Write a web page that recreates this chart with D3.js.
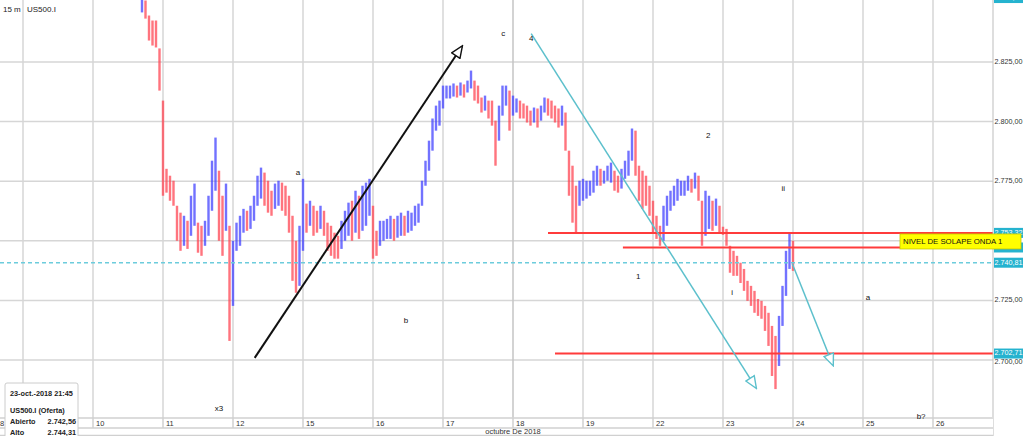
<!DOCTYPE html>
<html><head><meta charset="utf-8">
<script src="https://cdn.jsdelivr.net/npm/d3@7/dist/d3.min.js"></script>
<style>
html,body{margin:0;padding:0;background:#fff;}
svg{display:block;font-family:"Liberation Sans",Arial,sans-serif;}
</style></head>
<body><svg id="c" width="1024" height="436"></svg>
<script>
// ---- data ----
const symbol = "US500.I";
const timeframe = "15 m";
const monthLabel = "octubre De 2018";
// trading-day ticks (index 0 = 10 oct); label of day 9 is hidden under the info box
const dayLabels = ["8","","10","11","12","15","16","17","18","19","22","23","24","25","26"];
const dayIndex  = [-2,-1,0,1,2,3,4,5,6,7,8,9,10,11,12];
// bars: first bar at day index 0.7, 20 bars per trading day
const firstBar = 0.7;
const barsPerDay = 20;
const highs = [
2855.0,2850.8,2844.5,2842.4,2842.4,2830.7,2808.8,2780.2,2777.3,2775.2,
2764.7,2761.8,2760.5,2758.4,2768.9,2774.0,2757.6,2756.3,2758.4,2768.9,
2783.6,2793.3,2779.4,2768.9,2774.0,2756.3,2750.0,2757.6,2760.5,2763.4,
2762.6,2764.7,2768.9,2777.3,2780.7,2778.6,2775.2,2771.0,2774.0,2775.2,
2774.4,2773.1,2768.9,2760.5,2750.0,2756.3,2776.0,2765.6,2766.8,2764.7,
2762.6,2764.7,2762.6,2757.6,2756.3,2753.4,2752.1,2758.4,2762.6,2766.0,
2766.8,2771.0,2768.9,2773.1,2774.4,2776.0,2764.7,2754.2,2758.4,2758.4,
2759.2,2760.5,2759.2,2760.5,2761.8,2760.5,2762.6,2761.8,2764.7,2765.6,
2775.2,2783.6,2792.0,2801.3,2806.7,2808.8,2815.1,2815.1,2815.1,2816.0,
2815.1,2816.4,2815.6,2817.2,2821.4,2817.2,2815.1,2810.1,2810.9,2808.8,
2808.8,2800.4,2806.7,2815.1,2815.1,2813.0,2810.9,2809.7,2808.8,2807.6,
2806.7,2804.6,2805.9,2805.5,2806.7,2810.1,2809.7,2808.8,2806.7,2805.5,
2806.7,2803.8,2787.8,2781.5,2773.1,2775.2,2776.0,2775.2,2775.2,2779.4,
2781.5,2780.2,2779.4,2781.5,2782.8,2779.4,2777.3,2780.2,2783.6,2787.8,
2797.1,2796.2,2781.5,2779.4,2777.3,2773.1,2766.8,2760.5,2756.3,2764.7,
2768.9,2771.0,2773.1,2776.0,2775.2,2775.2,2777.3,2776.0,2778.6,2777.3,
2766.8,2771.0,2768.9,2766.8,2767.7,2764.7,2755.9,2755.0,2747.9,2745.8,
2743.7,2740.8,2738.2,2733.2,2731.1,2729.0,2725.6,2724.8,2722.7,2719.8,
2714.3,2710.1,2718.5,2731.1,2745.8,2753.0,2750.0];
const lows = [
2845.8,2843.2,2834.0,2831.9,2831.1,2813.0,2768.9,2770.2,2766.8,2764.7,
2750.0,2745.8,2747.9,2746.6,2752.1,2756.3,2745.0,2743.7,2747.9,2752.1,
2762.6,2771.0,2750.0,2743.7,2754.2,2708.0,2722.7,2745.8,2747.9,2753.4,
2754.2,2755.0,2758.4,2764.7,2767.7,2764.7,2761.8,2760.5,2763.4,2764.7,
2762.6,2760.5,2753.4,2733.2,2728.2,2731.1,2745.8,2753.4,2756.3,2752.1,
2753.4,2755.0,2752.1,2745.8,2743.7,2742.5,2742.5,2746.6,2750.0,2752.1,
2750.0,2753.4,2750.8,2754.2,2756.3,2760.5,2742.5,2743.7,2747.9,2750.0,
2750.8,2750.8,2750.0,2751.3,2752.1,2752.1,2753.4,2754.2,2756.3,2757.6,
2764.7,2773.1,2779.4,2787.8,2796.2,2798.3,2805.5,2809.7,2809.7,2810.5,
2810.1,2810.9,2810.1,2812.2,2813.9,2808.8,2807.6,2803.8,2804.6,2801.3,
2798.3,2781.5,2792.0,2802.5,2806.7,2796.2,2802.5,2803.8,2801.3,2801.3,
2799.6,2798.3,2799.6,2797.5,2800.4,2803.8,2802.5,2801.3,2799.6,2797.5,
2798.3,2787.8,2768.9,2757.6,2753.4,2764.7,2766.8,2767.7,2768.9,2770.2,
2773.1,2773.1,2774.0,2775.2,2774.4,2771.0,2770.2,2771.9,2776.0,2777.3,
2783.6,2777.3,2766.8,2763.4,2764.7,2760.5,2753.4,2750.8,2747.9,2750.0,
2756.3,2762.6,2764.7,2766.8,2768.9,2768.9,2771.0,2770.2,2771.9,2766.8,
2747.9,2752.1,2755.0,2754.2,2756.3,2753.4,2752.5,2747.9,2736.6,2735.3,
2735.3,2732.3,2729.0,2724.8,2722.7,2719.8,2718.5,2717.3,2712.2,2705.9,
2693.3,2687.8,2697.5,2714.3,2726.9,2738.2,2737.4];
const gridTicks = [2700,2725,2750,2775,2800,2825];
const priceTicks = [2700,2725,2775,2800,2825];
const tagValues = [2851.83,2753.32,2747.20,2740.81,2702.71];
const tagShown  = [true,true,false,true,true];
const lastPrice = 2740.81;
// support/resistance lines: value and start day index
const levelValues = [2753.32,2747.20,2702.71];
const levelStarts = [6.5,7.57,6.6];
const levelLabel = "NIVEL DE SOLAPE ONDA 1";
// wave labels: text, day index, price
const waveText  = ["c","4","a","2","ii","1","i","b","a","x3","b?"];
const waveDay   = [5.86,6.26,2.93,8.79,9.86,7.79,9.13,4.47,11.07,1.80,11.83];
const wavePrice = [2837.0,2834.8,2778.6,2794.1,2771.8,2734.9,2728.2,2716.4,2726.1,2679.4,2676.1];
// arrows: [day0, price0, day1, price1]
const arrowBlack = [2.31,2700.9,5.27,2831.5];
const arrowTeal1 = [6.26,2836.9,9.47,2688.4];
const arrowTeal2 = [9.99,2740.4,10.57,2697.9];
const infoDate = "23-oct.-2018 21:45";
const infoTitle = "US500.I (Oferta)";
const infoRows = [["Abierto","2.742,56"],["Alto","2.744,31"]];

// ---- chart ----
const W = 1024, H = 436, plotR = 993, plotB = 417;
const svg = d3.select("#c");
const x = d3.scaleLinear().domain([0,1]).range([93,163]);
const y = d3.scaleLinear().domain([2700,2825]).range([360,62]);
const loc = d3.formatLocale({decimal:",",thousands:".",grouping:[3],currency:["",""]});
const fmt = loc.format(",.2f");

const defs = svg.append("defs");
defs.append("clipPath").attr("id","plot")
  .append("rect").attr("x",0).attr("y",0).attr("width",plotR).attr("height",plotB);

// grid
const grid = svg.append("g");
grid.selectAll("line.h").data(gridTicks).enter().append("line")
  .attr("x1",0).attr("x2",plotR).attr("y1",d=>y(d)).attr("y2",d=>y(d))
  .attr("stroke","#d6d6d6").attr("stroke-width",1.5);
grid.selectAll("line.v").data(dayIndex.filter(d=>x(d)>0)).enter().append("line")
  .attr("x1",d=>x(d)).attr("x2",d=>x(d)).attr("y1",0).attr("y2",plotB)
  .attr("stroke",d=>d===6?"#c4c4c4":"#d6d6d6").attr("stroke-width",1.5);

const plot = svg.append("g").attr("clip-path","url(#plot)");

// price bars
const bars = highs.map((h,i)=>({t:firstBar+i/barsPerDay,h:h,l:lows[i]}));
bars.forEach((b,i)=>{
  const m=(b.h+b.l)/2, pm=i>0?(bars[i-1].h+bars[i-1].l)/2:m;
  b.up = m>=pm;
});
plot.selectAll("rect.bar").data(bars).enter().append("rect")
  .attr("x",d=>x(d.t)-1.2).attr("width",2.4)
  .attr("y",d=>y(d.h)).attr("height",d=>Math.max(1,y(d.l)-y(d.h)))
  .attr("fill",d=>d.up?"#3b3bff":"#ff3f4c").attr("opacity",0.72);

// last price dashed line
plot.append("line").attr("x1",0).attr("x2",plotR).attr("y1",y(lastPrice)).attr("y2",y(lastPrice))
  .attr("stroke","#6cccdc").attr("stroke-width",1.6).attr("stroke-dasharray","4,3");

// level lines
plot.selectAll("line.lvl").data(levelValues).enter().append("line")
  .attr("x1",(d,i)=>x(levelStarts[i])).attr("x2",plotR)
  .attr("y1",d=>y(d)).attr("y2",d=>y(d))
  .attr("stroke","#ff3b3b").attr("stroke-width",2);

// arrows
function marker(id,color){
  defs.append("marker").attr("id",id).attr("viewBox","0 0 14 12")
    .attr("refX",12).attr("refY",6).attr("markerWidth",14).attr("markerHeight",12)
    .attr("markerUnits","userSpaceOnUse").attr("orient","auto")
    .append("path").attr("d","M1,1 L13,6 L1,11 Z").attr("fill","#fff")
    .attr("stroke",color).attr("stroke-width",1.4);
}
marker("mb","#111"); marker("mt","#5cc0cc");
function arrow(a,color,w,m){
  plot.append("line").attr("x1",x(a[0])).attr("y1",y(a[1])).attr("x2",x(a[2])).attr("y2",y(a[3]))
    .attr("stroke",color).attr("stroke-width",w).attr("marker-end","url(#"+m+")");
}
arrow(arrowBlack,"#111",2,"mb");
arrow(arrowTeal1,"#5cc0cc",1.5,"mt");
arrow(arrowTeal2,"#5cc0cc",1.5,"mt");

// right axis
svg.append("rect").attr("x",plotR).attr("y",0).attr("width",W-plotR).attr("height",H).attr("fill","#fff");
svg.append("line").attr("x1",plotR).attr("x2",plotR).attr("y1",0).attr("y2",H)
  .attr("stroke","#bdbdbd").attr("stroke-width",1);
svg.selectAll("text.pt").data(priceTicks).enter().append("text")
  .attr("x",plotR+1.5).attr("y",d=>y(d)+(d===2700?2:0)).attr("dominant-baseline","middle")
  .attr("font-size",7.2).attr("fill","#333").text(d=>fmt(d));
const tags = svg.selectAll("g.tag").data(tagValues).enter().append("g");
tags.append("rect").attr("x",plotR+1).attr("width",W-plotR-2).attr("y",d=>y(d)-5).attr("height",10)
  .attr("fill","#25b3cf");
tags.filter((d,i)=>tagShown[i]).append("text").attr("x",plotR+1.5).attr("y",d=>y(d)).attr("dominant-baseline","middle")
  .attr("font-size",7.2).attr("fill","#fff").text(d=>fmt(d));

// yellow level label
const lv = y(levelValues[1]);
svg.append("rect").attr("x",900).attr("y",lv-13.5).attr("width",121).attr("height",15)
  .attr("fill","#ffff00").attr("stroke","#c8c800").attr("stroke-width",0.8);
svg.append("text").attr("x",903).attr("y",lv-5.5).attr("dominant-baseline","middle")
  .attr("font-size",7.8).attr("fill","#111").text(levelLabel);

// date axis
svg.append("rect").attr("x",0).attr("y",plotB).attr("width",plotR).attr("height",H-plotB).attr("fill","#fff");
[plotB+1,428,435.5].forEach(v=>svg.append("line").attr("x1",0).attr("x2",plotR).attr("y1",v).attr("y2",v)
  .attr("stroke","#d0d0d0").attr("stroke-width",1.5));
svg.selectAll("line.dt").data(dayIndex.filter(d=>x(d)>0)).enter().append("line")
  .attr("x1",d=>x(d)).attr("x2",d=>x(d)).attr("y1",plotB).attr("y2",428)
  .attr("stroke","#d0d0d0").attr("stroke-width",1.5);
svg.selectAll("text.dl").data(dayLabels.map((l,i)=>({l:l,i:dayIndex[i]})).filter(d=>d.l)).enter().append("text")
  .attr("x",d=>Math.max(0,x(d.i)+3)).attr("y",425.5)
  .attr("font-size",7.5).attr("fill","#333").text(d=>d.l);
svg.append("text").attr("x",x(6)).attr("y",433.5).attr("text-anchor","middle")
  .attr("font-size",7.5).attr("fill","#333").text(monthLabel);

// wave labels (drawn above axis row)
svg.selectAll("text.w").data(waveText).enter().append("text")
  .attr("x",(d,i)=>x(waveDay[i])).attr("y",(d,i)=>y(wavePrice[i]))
  .attr("text-anchor","middle").attr("dominant-baseline","middle")
  .attr("font-size",8).attr("fill","#111").text(d=>d);

// header
svg.append("text").attr("x",3).attr("y",10).attr("dominant-baseline","middle").attr("font-size",8).attr("fill","#222").text(timeframe);
svg.append("text").attr("x",27).attr("y",10).attr("dominant-baseline","middle").attr("font-size",8).attr("fill","#222").text(symbol);

// info box
const ib = svg.append("g");
ib.append("rect").attr("x",5).attr("y",383).attr("width",73).attr("height",56)
  .attr("fill","#fff").attr("stroke","#ccc").attr("stroke-width",1).attr("rx",2);
function itext(tx,xx,yy,anchor){
  ib.append("text").attr("x",xx).attr("y",yy).attr("text-anchor",anchor||"start")
    .attr("dominant-baseline","middle").attr("font-size",7.3).attr("font-weight","bold")
    .attr("fill","#222").text(tx);
}
itext(infoDate,10,394);
itext(infoTitle,10,411);
infoRows.forEach((r,i)=>{ itext(r[0],10,422+i*11); itext(r[1],76,422+i*11,"end"); });
</script></body></html>
